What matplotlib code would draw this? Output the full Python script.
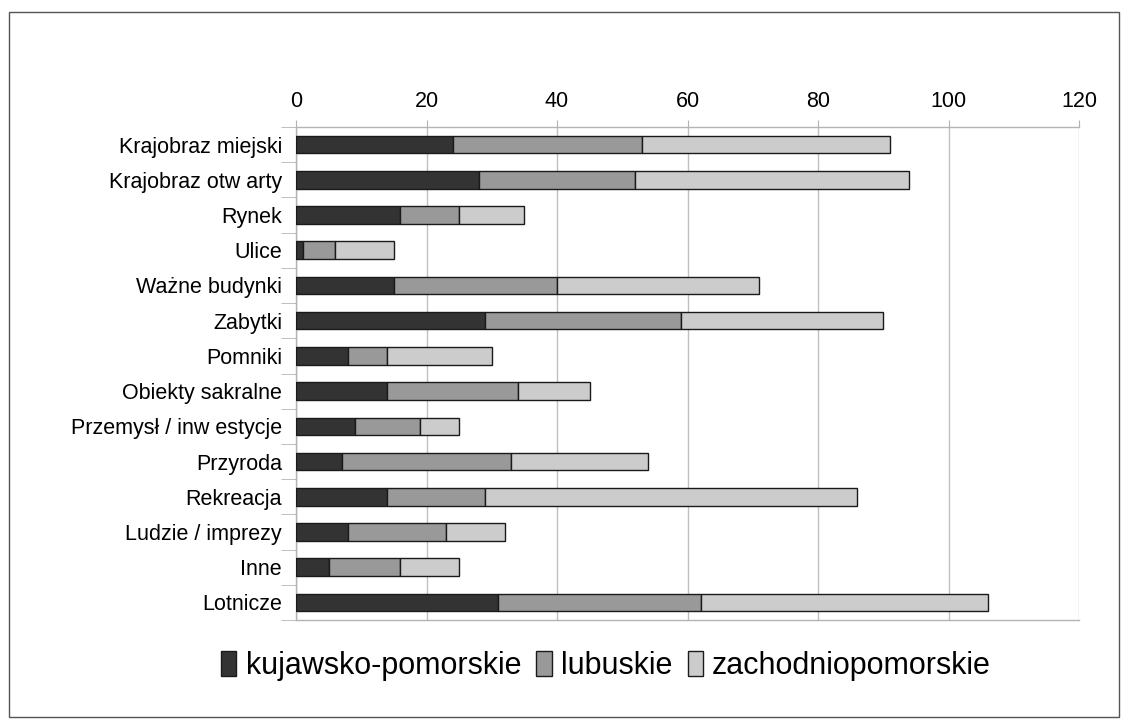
import matplotlib.pyplot as plt
from matplotlib.patches import Rectangle
import numpy as np

plt.rcParams["font.family"] = ["Liberation Sans", "DejaVu Sans"]

categories = [
    "Krajobraz miejski",
    "Krajobraz otw arty",
    "Rynek",
    "Ulice",
    "Ważne budynki",
    "Zabytki",
    "Pomniki",
    "Obiekty sakralne",
    "Przemysł / inw estycje",
    "Przyroda",
    "Rekreacja",
    "Ludzie / imprezy",
    "Inne",
    "Lotnicze",
]
kujawsko_pomorskie = [24, 28, 16, 1, 15, 29, 8, 14, 9, 7, 14, 8, 5, 31]
lubuskie = [29, 24, 9, 5, 25, 30, 6, 20, 10, 26, 15, 15, 11, 31]
zachodniopomorskie = [38, 42, 10, 9, 31, 31, 16, 11, 6, 21, 57, 9, 9, 44]
x_ticks = [0, 20, 40, 60, 80, 100, 120]

series = [
    ("kujawsko-pomorskie", kujawsko_pomorskie, "#333333"),
    ("lubuskie", lubuskie, "#999999"),
    ("zachodniopomorskie", zachodniopomorskie, "#cccccc"),
]

fig = plt.figure(figsize=(11.28, 7.27), dpi=100)
ax = fig.add_axes([296 / 1128, 1 - 620 / 727, (1079 - 296) / 1128, (620 - 127) / 727])

y = np.arange(len(categories))
left = np.zeros(len(categories))
for name, vals, color in series:
    vals = np.array(vals, dtype=float)
    ax.barh(y, vals, left=left, height=0.5, color=color,
            edgecolor="#1a1a1a", linewidth=1.0, label=name, zorder=3)
    left += vals

ax.set_xlim(0, 120)
ax.set_ylim(len(categories) - 0.5, -0.5)
ax.set_xticks(x_ticks)
ax.xaxis.tick_top()
ax.tick_params(axis="x", which="major", length=5, color="#b3b3b3",
               labelsize=15.5, pad=6)
ax.grid(axis="x", color="#c0c0c0", linewidth=1.0, zorder=0)

ax.set_yticks(y)
ax.set_yticklabels(categories)
ax.set_yticks(np.arange(len(categories) + 1) - 0.5, minor=True)
ax.tick_params(axis="y", which="major", length=0, labelsize=15.5, pad=10)
ax.tick_params(axis="y", which="minor", length=11, color="#b3b3b3")

for side in ["left", "top", "bottom"]:
    ax.spines[side].set_color("#b3b3b3")
    ax.spines[side].set_linewidth(1.0)
ax.spines["right"].set_visible(False)

fig.legend(loc="center", bbox_to_anchor=(606 / 1128, 1 - 666 / 727), ncol=3,
           frameon=False, fontsize=22, handlelength=0.5, handleheight=0.85,
           handletextpad=0.3, columnspacing=0.5)

# outer frame of the figure
fig.patches.append(Rectangle((9 / 1128, 1 - 717 / 727), (1119 - 9) / 1128,
                             (717 - 12) / 727, transform=fig.transFigure,
                             fill=False, edgecolor="#555555", linewidth=1.0))

fig.savefig("out.png", dpi=100)
